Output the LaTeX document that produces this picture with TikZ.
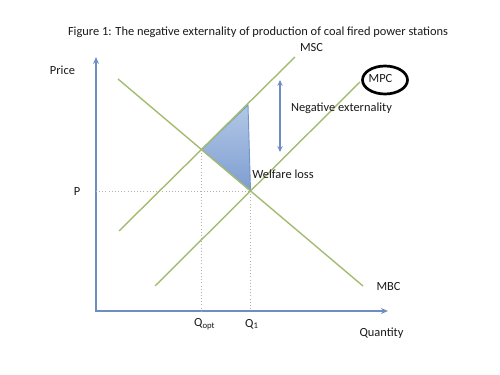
\documentclass[tikz,border=0pt]{standalone}
\usepackage{fontspec}
\setmainfont{Carlito}
\usetikzlibrary{arrows.meta,intersections}
\definecolor{curvegreen}{HTML}{A3BC72}
\definecolor{axisblue}{HTML}{6C8EC0}
\definecolor{triborder}{HTML}{7396CA}
\definecolor{trilight}{HTML}{B3C8E6}
\definecolor{tridark}{HTML}{7D9DD0}
\begin{document}
\begin{tikzpicture}[x=0.03cm,y=-0.03cm,
  curve/.style={draw=curvegreen,line width=1.2pt},
  axis/.style={draw=axisblue,line width=1.8pt},
  guide/.style={draw=black!30,dotted,line width=0.7pt},
  lbl/.style={font=\fontsize{10.6}{12}\selectfont,inner sep=0pt,text=black!90}]
\useasboundingbox (0,0) rectangle (500,375);

% axes
\coordinate (O) at (96,311);
\coordinate (ytop) at (96,57);
\coordinate (xend) at (388,311);
\draw[axis,{Stealth[length=6pt,width=5pt]}-{Stealth[length=6pt,width=5pt]}] (ytop) -- (O) -- (xend);

% curves
\coordinate (mbcA) at (118,79);
\coordinate (mbcB) at (363,286);
\coordinate (mscA) at (119,231);
\coordinate (mscB) at (295,57);
\coordinate (mpcA) at (155,286);
\coordinate (mpcB) at (360,82);
\path[name path=mbc] (mbcA) -- (mbcB);
\path[name path=msc] (mscA) -- (mscB);
\path[name path=mpc] (mpcA) -- (mpcB);
\path[name intersections={of=mbc and msc,by=Eopt}];
\path[name intersections={of=mbc and mpc,by=E1}];
\coordinate (T) at (248,105);

% welfare loss triangle
\shade[top color=trilight,bottom color=tridark,draw=triborder,line width=0.8pt]
  (Eopt) -- (T) -- (E1) -- cycle;

% guides
\draw[guide] (O |- E1) -- (E1);
\draw[guide] (Eopt) -- (Eopt |- O);
\draw[guide] (E1) -- (E1 |- O);

\draw[curve] (mbcA) -- (mbcB);
\draw[curve] (mscA) -- (mscB);
\draw[curve] (mpcA) -- (mpcB);

% negative externality arrow
\coordinate (neA) at (280,80);
\coordinate (neB) at (280,152);
\draw[draw=axisblue,line width=1.2pt,{Stealth[length=5pt,width=4.5pt]}-{Stealth[length=5pt,width=4.5pt]}] (neA) -- (neB);

% MPC ellipse
\draw[line width=2.3pt] (385,80) ellipse [x radius=22.5, y radius=14];

% labels
\node[lbl] (title) at (258,32) {Figure 1: The negative externality of production of coal fired power stations};
\node[lbl] (msc) at (311.5,48) {MSC};
\node[lbl] (mpc) at (380.5,79) {MPC};
\node[lbl] (price) at (62.5,70) {Price};
\node[lbl] (negext) at (341.5,108) {Negative externality};
\node[lbl] (wl) at (283,174) {Welfare loss};
\node[lbl] (p) at (77,192) {P};
\node[lbl,anchor=west] (qopt) at (194,324) {Q\textsubscript{opt}};
\node[lbl,anchor=west] (q1) at (245,324) {Q\textsubscript{1}};
\node[lbl] (mbc) at (388.5,287) {MBC};
\node[lbl] (qty) at (381.5,333) {Quantity};
\end{tikzpicture}
\end{document}
